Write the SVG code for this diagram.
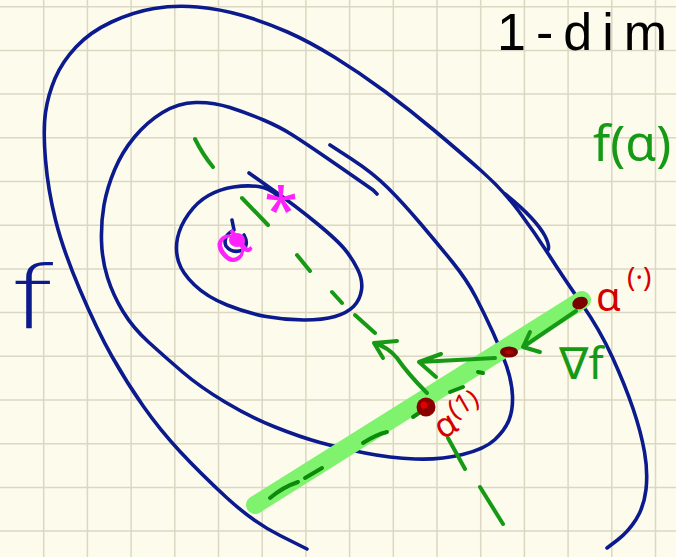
<svg xmlns="http://www.w3.org/2000/svg" width="676" height="557" viewBox="0 0 676 557">
<style>
.grid{stroke:#dcd7c2;stroke-width:1.5;fill:none}
.blue{stroke:#0b1a8c;stroke-width:3.6;fill:none;stroke-linecap:round;stroke-linejoin:round}
.gr{stroke:#169a16;stroke-width:4;fill:none;stroke-linecap:round;stroke-linejoin:round}
.dk{stroke:#0c8a0c;stroke-width:4;fill:none;stroke-linecap:round}
.hl{stroke:#7ff36e;stroke-width:18;fill:none;stroke-linecap:round}
.t{font-family:"Noto Sans","DejaVu Sans",sans-serif}
</style>
<rect id="paper" x="0" y="0" width="676" height="557" fill="#fdfbec"/>
<path id="grid" class="grid" d="M43.7,0V557M87.4,0V557M131.1,0V557M174.8,0V557M218.5,0V557M262.2,0V557M305.9,0V557M349.6,0V557M393.3,0V557M437,0V557M480.7,0V557M524.4,0V557M568.1,0V557M611.8,0V557M655.5,0V557M0,6.7H676M0,50.4H676M0,94.1H676M0,137.8H676M0,181.5H676M0,225.2H676M0,268.9H676M0,312.6H676M0,356.3H676M0,400H676M0,443.7H676M0,487.4H676M0,531.1H676"/>
<g id="contours">
<path id="outer" class="blue" d="M307,549 L280,535.5 Q253,522 226.5,497.5 Q200,473 180,451.5 Q160,430 143.5,406.5 Q127,383 112,356.5 Q97,330 80,290 Q63,250 55.5,220 Q48,190 45.5,160 Q43,130 45.5,112.5 Q48,95 55,78.5 Q62,62 76,47 Q90,32 111.5,22 Q133,12 154,8.5 Q175,5 197.5,7 Q220,9 242.5,15.5 Q265,22 287.5,32 Q310,42 335,57.5 Q360,73 385,91.5 Q410,110 435,131 Q460,152 481.5,171 Q503,190 519,211.5 Q535,233 549,255 Q563,277 581.5,303.5 Q600,330 612.5,357.5 Q625,385 633,408.5 Q641,432 644.5,452 Q648,472 646,489.5 Q644,507 636,519.5 Q628,532 617.5,540 L607,548"/>
<path id="outer-retrace" class="blue" d="M505,194 Q535,218 545,236 Q550,246 548,250"/>
<path id="middle" class="blue" d="M330,145 L351.5,159 Q373,173 388,188 Q403,203 420,223 Q437,243 452,261.5 Q467,280 476,297.5 Q485,315 493,332.5 Q501,350 506.5,366 Q512,382 512.5,396 Q513,410 509,420 Q505,430 495,439.5 Q485,449 462.5,454.5 Q440,460 415,459 Q390,458 365,453 Q340,448 320,442.5 Q300,437 275,427 Q250,417 225,402 Q200,387 182.5,372 Q165,357 149,342.5 Q133,328 123,311.5 Q113,295 107.5,277.5 Q102,260 101.5,241 Q101,222 104,205 Q107,188 114.5,170 Q122,152 134.5,137 Q147,122 162.5,112.5 Q178,103 195.5,102.5 Q213,102 230,107.5 Q247,113 263.5,120 Q280,127 292.5,135 Q305,143 322.5,155 Q340,167 356.5,178.5 L373,190 L377,194"/>
<path id="inner" class="blue" d="M249,173 L273,190 Q297,207 317,223.5 Q337,240 344.5,249 Q352,258 357.5,269 Q363,280 361.5,290 Q360,300 353.5,306.5 Q347,313 335,316.5 Q323,320 304,320 Q285,320 266,316.5 Q247,313 227,305 Q207,297 194.5,285 Q182,273 178.5,261.5 Q175,250 177.5,238 Q180,226 188.5,214 Q197,202 208.5,195.5 Q220,189 233.5,187 Q247,185 258.5,186.5 Q270,188 279,197"/>
<path id="minimum" class="blue" d="M232,220 L234,230 Q222,236 226,246 Q232,254 243,250 Q249,244 244,235"/>
</g>
<g id="line-1d">
<path class="hl" d="M255,505 L582,300"/>
<path class="dk" d="M270,498 Q283,487 298,482 M305,478 L322,468 M363,443 Q375,435 387,432 M413,417 L419,413 M450,392 L463,387 M478,372 L483,373"/>
</g>
<g id="gradient-line">
<path class="gr" d="M195,139 Q203,155 213,167 M242,198 L268,225 M297,255 L310,271 M332,292 L342,303 M355,315 L375,333 M448,438 L465,469 M480,487 L503,524"/>
</g>
<g id="connectors">
<path class="gr" d="M576,311 L523,347 M530,332 L523,347 L540,352"/>
<path class="gr" d="M495,358 L419,362 M441,354 L419,362 L436,377"/>
<path class="gr" stroke-width="4.5" d="M427,393 Q408,374 397,358 Q388,347 374,343 M397,341 L374,343 L383,358"/>
</g>
<g id="points">
<ellipse id="p0" cx="580" cy="303" rx="8" ry="6" transform="rotate(-20 580 303)" fill="#7a0000"/>
<ellipse id="p1" cx="509" cy="352" rx="9" ry="5.5" fill="#7a0000"/>
<ellipse cx="509" cy="352" rx="4" ry="2" fill="#b00000"/>
<circle id="p2" cx="426" cy="407" r="9.5" fill="#8a0000"/>
<circle cx="424" cy="405" r="3.5" fill="#e00000"/>
<ellipse id="pstar" cx="237" cy="240" rx="8" ry="7" fill="#ff22ff"/>
</g>
<g id="labels" class="t">
<text x="497" y="50" font-size="52" font-family="Liberation Sans" letter-spacing="10" fill="#000">1-dim</text>
<text x="593" y="161" font-size="50" fill="#169a16">f(α)</text>
<text x="0" y="0" font-size="88" font-family="DejaVu Sans" font-weight="200" fill="#0b1a8c" transform="translate(10,328) scale(1.4,1)">f</text>
<text x="559" y="379" font-size="44" fill="#169a16">∇f</text>
<text x="596" y="311" font-size="40" fill="#d40000">α</text>
<text x="627" y="287" font-size="28" fill="#d40000">(·)</text>
<text x="0" y="0" font-size="34" fill="#d40000" transform="translate(442,440) rotate(-30)">α<tspan font-size="26" dy="-12">(1)</tspan></text>
<text x="0" y="0" font-size="52" fill="#ff22ff" transform="translate(228,268) rotate(-38)">α</text>
<text x="264" y="232" font-size="62" fill="#ff22ff">*</text>
</g>
</svg>
